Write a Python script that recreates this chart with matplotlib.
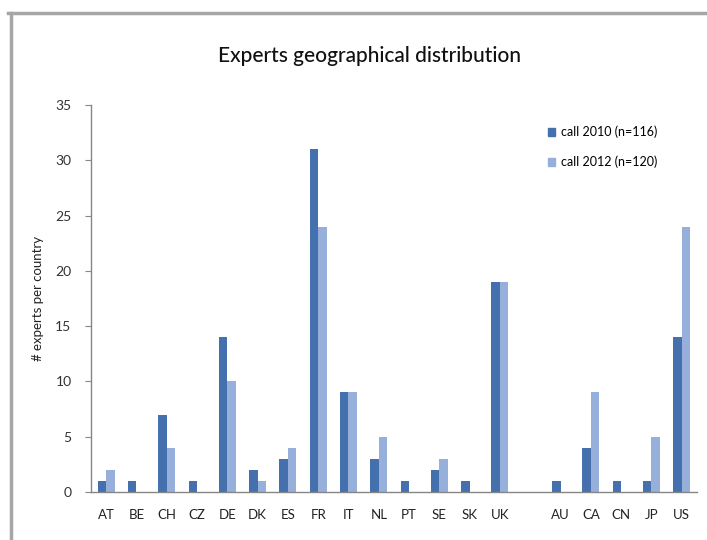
import matplotlib
matplotlib.use("Agg")
import matplotlib.pyplot as plt
from matplotlib.lines import Line2D
from matplotlib.patches import Patch
import numpy as np

plt.rcParams['font.family'] = ['Lato', 'DejaVu Sans']

countries = ["AT", "BE", "CH", "CZ", "DE", "DK", "ES", "FR", "IT", "NL", "PT", "SE", "SK", "UK",
             "", "AU", "CA", "CN", "JP", "US"]
call_2010 = [1, 1, 7, 1, 14, 2, 3, 31, 9, 3, 1, 2, 1, 19, 0, 1, 4, 1, 1, 14]
call_2012 = [2, 0, 4, 0, 10, 1, 4, 24, 9, 5, 0, 3, 0, 19, 0, 0, 9, 0, 5, 24]
series_names = ["call 2010 (n=116)", "call 2012 (n=120)"]
yticks = [0, 5, 10, 15, 20, 25, 30, 35]

c1 = "#4470AE"
c2 = "#97AFDB"
axis_gray = "#868686"

fig = plt.figure(figsize=(7.07, 5.40), dpi=100)
ax = fig.add_axes([0.1287, 0.0889, 0.857, 0.7167])

x = np.arange(len(countries))
w = 0.28
ax.bar(x - w / 2, call_2010, width=w, color=c1, label=series_names[0])
ax.bar(x + w / 2, call_2012, width=w, color=c2, label=series_names[1])

ax.set_xlim(-0.5, len(countries) - 0.5)
ax.set_ylim(0, 35)
ax.set_yticks(yticks)
ax.set_xticks(x)
ax.set_xticklabels(countries, fontsize=9.5, color="#222222")
ax.tick_params(axis='x', length=0, pad=12)
ax.tick_params(axis='y', direction='out', length=4, color=axis_gray, labelsize=10,
               labelcolor="#333333", pad=10)

for s in ["top", "right"]:
    ax.spines[s].set_visible(False)
for s in ["left", "bottom"]:
    ax.spines[s].set_color(axis_gray)
    ax.spines[s].set_linewidth(1.0)

ax.set_ylabel("# experts per country", fontsize=9.5, color="#222222", labelpad=8)

fig.text(0.523, 0.897, "Experts geographical distribution", ha="center", va="center",
         fontsize=15, color="#111111", fontweight="medium")

handles = [Patch(color=c1), Patch(color=c2)]
leg = ax.legend(handles, series_names, loc="upper left", bbox_to_anchor=(0.735, 0.975),
                frameon=False, fontsize=9, handlelength=0.6, handleheight=0.6,
                handletextpad=0.5, labelspacing=1.4)

# outer frame (gray border at top and left)
fig.add_artist(Line2D([8 / 707, 1.0], [1 - 13 / 540, 1 - 13 / 540], color="#A6A6A6",
                      linewidth=2.5, transform=fig.transFigure))
fig.add_artist(Line2D([11 / 707, 11 / 707], [1 - 13 / 540, 0], color="#A6A6A6",
                      linewidth=2.5, transform=fig.transFigure))

fig.savefig("out.png", dpi=100)
